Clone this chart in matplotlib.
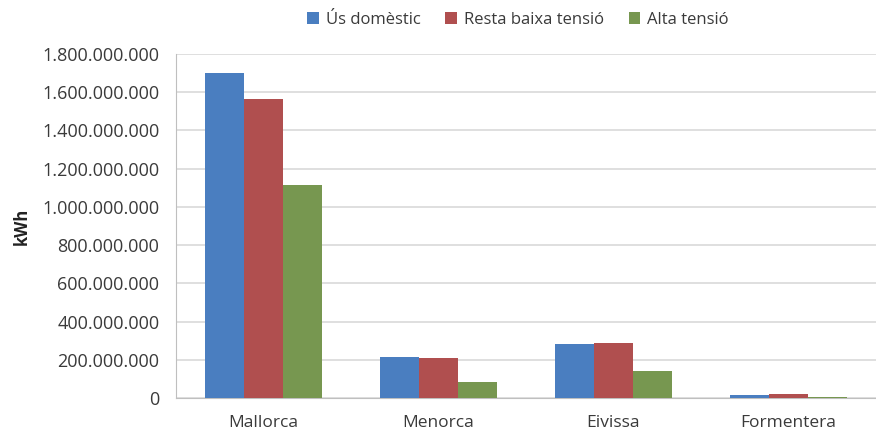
import matplotlib.pyplot as plt
import numpy as np
from matplotlib.ticker import FuncFormatter

islands = ['Mallorca', 'Menorca', 'Eivissa', 'Formentera']
series = ['Ús domèstic', 'Resta baixa tensió', 'Alta tensió']
domestic = [1700e6, 215e6, 281e6, 16e6]
low_rest = [1565e6, 209e6, 288e6, 22e6]
high = [1117e6, 84e6, 140e6, 5e6]
colors = ['#4A7EC0', '#B04F4F', '#779750']

plt.rcParams['font.family'] = ['Open Sans', 'DejaVu Sans']

fig = plt.figure(figsize=(8.76, 4.34), dpi=100)
ax = fig.add_axes([176/876, 1 - 398/434, 700/876, 344/434])

x = np.arange(len(islands))
w = 0.222
for i, (vals, name) in enumerate(zip([domestic, low_rest, high], series)):
    ax.bar(x + (i - 1)*w, vals, w, color=colors[i], label=name, zorder=3)

ax.set_xlim(-0.5, 3.5)
ax.set_ylim(0, 1.8e9)
ax.set_yticks(np.arange(0, 1.8e9 + 1, 2e8))
ax.yaxis.set_major_formatter(FuncFormatter(lambda v, p: f'{v:,.0f}'.replace(',', '.')))
ax.set_xticks(x)
ax.set_xticklabels(islands)
ax.tick_params(axis='both', length=0, labelsize=13, colors='#3a3a3a')
ax.tick_params(axis='y', pad=12)
ax.tick_params(axis='x', pad=12, labelsize=12.5)
ax.grid(axis='y', color='#d9d9d9', linewidth=1.2, zorder=0)
for s in ['top', 'right']:
    ax.spines[s].set_visible(False)
ax.spines['left'].set_color('#bfbfbf')
ax.spines['bottom'].set_color('#bfbfbf')
ax.set_ylabel('kWh', fontsize=12, fontweight='bold', labelpad=8, color='#222222')

fig.legend(loc='center', bbox_to_anchor=(518/876, 1 - 20/434), ncol=3, frameon=False,
           fontsize=12, handlelength=0.7, handleheight=0.7, handletextpad=0.4,
           columnspacing=1.5, labelcolor='#3a3a3a')

fig.savefig('out.png', dpi=100)
